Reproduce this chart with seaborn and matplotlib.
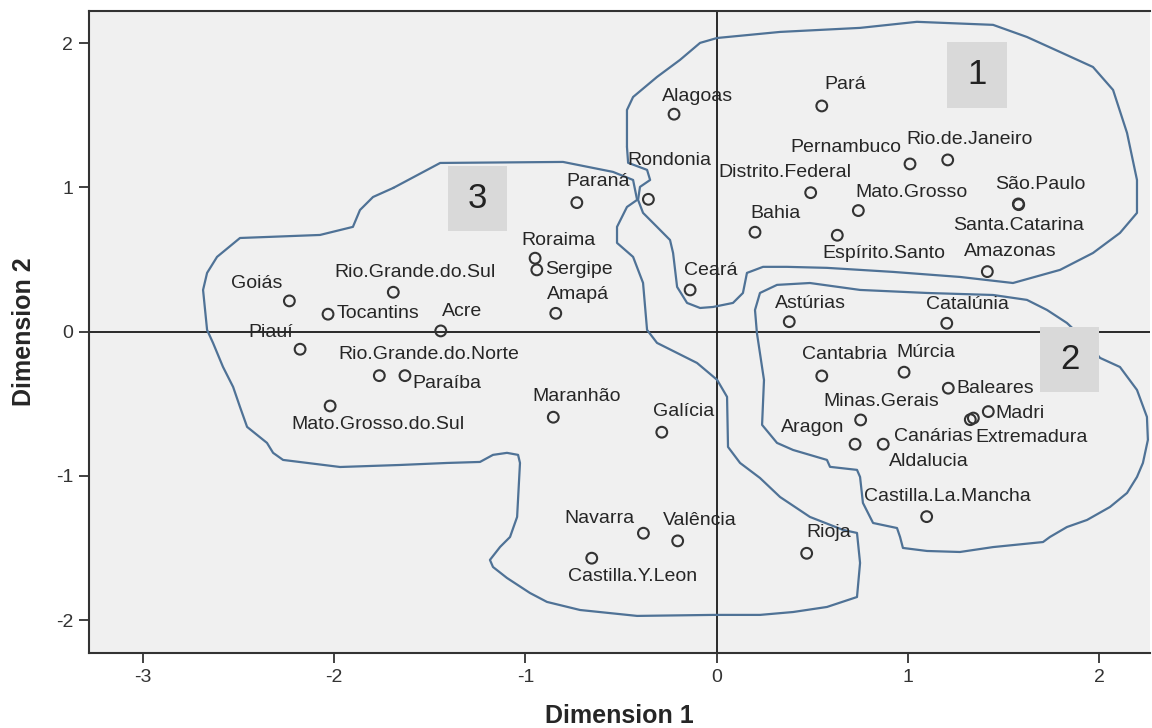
import matplotlib

matplotlib.use("Agg")

import matplotlib.pyplot as plt
import seaborn as sns
from matplotlib.patches import Rectangle

# Object points of the two-dimensional solution (Brazilian states and Spanish communities)
PLACES = [
    "Alagoas", "Pará", "Pernambuco", "Rio.de.Janeiro", "Distrito.Federal", "Mato.Grosso",
    "São.Paulo", "Santa.Catarina", "Espírito.Santo", "Bahia", "Amazonas", "Rondonia",
    "Paraná", "Roraima", "Sergipe", "Amapá", "Ceará", "Acre", "Rio.Grande.do.Sul", "Goiás",
    "Tocantins", "Piauí", "Rio.Grande.do.Norte", "Paraíba", "Mato.Grosso.do.Sul", "Maranhão",
    "Galícia", "Navarra", "Valência", "Castilla.Y.Leon", "Rioja", "Astúrias", "Catalúnia",
    "Cantabria", "Múrcia", "Baleares", "Madri", "Extremadura", "Aldalucia", "Minas.Gerais",
    "Aragon", "Canárias", "Castilla.La.Mancha",
]
DIM1 = [
    -0.223, 0.549, 1.010, 1.207, 0.491, 0.740,
    1.576, 1.578, 0.630, 0.200, 1.414, -0.357,
    -0.731, -0.949, -0.940, -0.841, -0.139, -1.442, -1.690, -2.233,
    -2.031, -2.177, -1.763, -1.629, -2.020, -0.854,
    -0.287, -0.383, -0.204, -0.653, 0.470, 0.379, 1.202,
    0.549, 0.979, 1.210, 1.419, 1.341, 1.325, 0.752,
    0.723, 0.870, 1.097,
]
DIM2 = [
    1.507, 1.564, 1.162, 1.190, 0.963, 0.839,
    0.885, 0.880, 0.668, 0.689, 0.416, 0.917,
    0.894, 0.509, 0.428, 0.127, 0.289, 0.005, 0.273, 0.213,
    0.121, -0.122, -0.305, -0.305, -0.515, -0.593,
    -0.697, -1.397, -1.450, -1.570, -1.536, 0.069, 0.058,
    -0.307, -0.281, -0.392, -0.554, -0.599, -0.610, -0.612,
    -0.780, -0.780, -1.282,
]

# Hand-drawn group outlines (dimension units)
GROUP1_X = [-0.469, -0.469, -0.437, -0.312, -0.192, -0.087, 0.002, 0.331, 0.749, 1.046, 1.444,
            1.621, 1.794, 1.966, 2.071, 2.144, 2.196, 2.196, 2.107, 1.966, 1.794, 1.548, 1.271,
            0.921, 0.576, 0.367, 0.242, 0.158, 0.137, 0.085, -0.019, -0.087, -0.155, -0.207,
            -0.228, -0.244, -0.312, -0.385, -0.411, -0.401, -0.348, -0.364, -0.463, -0.469]
GROUP1_Y = [1.280, 1.536, 1.626, 1.765, 1.883, 2.001, 2.035, 2.077, 2.105, 2.147, 2.126,
            2.042, 1.938, 1.834, 1.675, 1.377, 1.051, 0.823, 0.684, 0.545, 0.428, 0.337, 0.379,
            0.414, 0.442, 0.449, 0.449, 0.407, 0.268, 0.199, 0.171, 0.164, 0.199, 0.310,
            0.545, 0.635, 0.726, 0.823, 0.913, 1.003, 1.051, 1.121, 1.170, 1.280]
GROUP2_X = [0.210, 0.200, 0.226, 0.315, 0.487, 0.749, 1.099, 1.444, 1.621, 1.726, 1.830, 1.924,
            2.003, 2.107, 2.196, 2.248, 2.253, 2.227, 2.196, 2.144, 2.055, 1.935, 1.830, 1.741,
            1.705, 1.444, 1.271, 1.099, 0.973, 0.958, 0.942, 0.817, 0.764, 0.749, 0.733, 0.592,
            0.576, 0.399, 0.315, 0.237, 0.247, 0.210]
GROUP2_Y = [-0.009, 0.150, 0.268, 0.324, 0.337, 0.289, 0.268, 0.254, 0.220, 0.150, 0.060, -0.057,
            -0.182, -0.245, -0.404, -0.591, -0.750, -0.910, -1.007, -1.118, -1.215, -1.305,
            -1.354, -1.423, -1.458, -1.493, -1.527, -1.520, -1.499, -1.423, -1.361, -1.326,
            -1.187, -1.007, -0.958, -0.937, -0.889, -0.820, -0.771, -0.646, -0.335, -0.009]
GROUP3_X = [-1.690, -1.445, -0.803, -0.542, -0.437, -0.416, -0.469, -0.521, -0.521, -0.437,
            -0.385, -0.364, -0.312, -0.103, 0.002, 0.054, 0.059, 0.122, 0.226, 0.331, 0.487,
            0.660, 0.733, 0.749, 0.733, 0.576, 0.399, 0.226, -0.019, -0.416, -0.714, -0.887,
            -0.976, -1.096, -1.169, -1.185, -1.132, -1.080, -1.043, -1.028, -1.038, -1.096,
            -1.169, -1.237, -1.409, -1.655, -1.968, -2.266, -2.318, -2.350, -2.454, -2.491,
            -2.527, -2.580, -2.632, -2.663, -2.684, -2.663, -2.611, -2.491, -2.350, -2.073,
            -1.901, -1.864, -1.796, -1.690]
GROUP3_Y = [0.996, 1.169, 1.176, 1.107, 1.051, 0.913, 0.864, 0.726, 0.615, 0.518,
            0.338, 0.012, -0.078, -0.217, -0.334, -0.452, -0.799, -0.910, -1.014, -1.146, -1.284,
            -1.374, -1.395, -1.603, -1.839, -1.908, -1.943, -1.963, -1.963, -1.970, -1.929, -1.873,
            -1.811, -1.707, -1.631, -1.582, -1.492, -1.423, -1.284, -0.910, -0.854, -0.840,
            -0.854, -0.903, -0.910, -0.924, -0.938, -0.889, -0.840, -0.771, -0.660, -0.522,
            -0.383, -0.244, -0.078, 0.012, 0.289, 0.407, 0.518, 0.649, 0.656, 0.670,
            0.726, 0.843, 0.933, 0.996]

# Group number boxes: label, (x0, x1), (y0, y1)
GROUP_LABELS = ["1", "2", "3"]
GROUP_BOX_X = [(1.204, 1.517), (1.689, 1.998), (-1.404, -1.095)]
GROUP_BOX_Y = [(1.550, 2.009), (-0.418, 0.033), (0.698, 1.148)]

X_TICKS = [-3, -2, -1, 0, 1, 2]
Y_TICKS = [-2, -1, 0, 1, 2]

# label-centre offsets from each point, in pixels (right, up)
LABEL_OFFSETS = {
    "Alagoas": (23, 18), "Pará": (23, 21), "Pernambuco": (-64, 16), "Rio.de.Janeiro": (22, 20),
    "Distrito.Federal": (-26, 20), "Mato.Grosso": (53, 18), "São.Paulo": (22, 19),
    "Santa.Catarina": (0, -21), "Espírito.Santo": (47, -18), "Bahia": (21, 19),
    "Amazonas": (23, 20), "Rondonia": (21, 39), "Paraná": (21, 21), "Roraima": (23, 18),
    "Sergipe": (42, 0), "Amapá": (22, 19), "Ceará": (21, 19), "Acre": (21, 19),
    "Rio.Grande.do.Sul": (22, 20), "Goiás": (-33, 17), "Tocantins": (50, 1), "Piauí": (-29, 17),
    "Rio.Grande.do.Norte": (49, 21), "Paraíba": (42, -8), "Mato.Grosso.do.Sul": (48, -19),
    "Maranhão": (23, 21), "Galícia": (22, 21), "Navarra": (-44, 15), "Valência": (22, 20),
    "Castilla.Y.Leon": (41, -18), "Rioja": (22, 21), "Astúrias": (21, 18), "Catalúnia": (21, 19),
    "Cantabria": (23, 21), "Múrcia": (22, 20), "Baleares": (47, 0), "Madri": (32, -2),
    "Extremadura": (58, -19), "Aldalucia": (-41, -42), "Minas.Gerais": (21, 18),
    "Aragon": (-42, 17), "Canárias": (50, 8), "Castilla.La.Mancha": (21, 20),
}

sns.set_style("white")
plt.rcParams["font.family"] = ["Liberation Sans", "DejaVu Sans"]
plt.rcParams["axes.unicode_minus"] = False

fig = plt.figure(figsize=(11.52, 7.28), dpi=100)
ax = fig.add_axes([89 / 1152, 1 - 653 / 728, 1061 / 1152, 642 / 728])
ax.set_facecolor("#f0f0f0")

ax.axhline(0, color="#1a1a1a", lw=1.3, zorder=1)
ax.axvline(0, color="#1a1a1a", lw=1.3, zorder=1)

for gx, gy in [(GROUP1_X, GROUP1_Y), (GROUP2_X, GROUP2_Y), (GROUP3_X, GROUP3_Y)]:
    ax.plot(gx, gy, color="#4f7296", lw=1.6, solid_joinstyle="round", zorder=2)

for lab, (x0, x1), (y0, y1) in zip(GROUP_LABELS, GROUP_BOX_X, GROUP_BOX_Y):
    ax.add_patch(Rectangle((x0, y0), x1 - x0, y1 - y0, facecolor="#d9d9d9",
                           edgecolor="none", zorder=3))
    ax.text((x0 + x1) / 2, (y0 + y1) / 2, lab, ha="center", va="center",
            fontsize=25, color="#222222", zorder=4)

sns.scatterplot(x=DIM1, y=DIM2, ax=ax, marker="o", s=60, facecolors="none",
                edgecolor="#333333", linewidth=1.5, zorder=5)

for name, x, y in zip(PLACES, DIM1, DIM2):
    dx, dy = LABEL_OFFSETS[name]
    ax.annotate(name, (x, y), xytext=(dx, dy), textcoords="offset pixels",
                ha="center", va="center", fontsize=14, color="#262626", zorder=6)

ax.set_xlim(-3.28, 2.264)
ax.set_ylim(-2.227, 2.222)
ax.set_xticks(X_TICKS)
ax.set_yticks(Y_TICKS)
ax.tick_params(axis="both", which="major", direction="out", length=7.5, width=1.3,
               color="#333333", labelsize=14, labelcolor="#333333", pad=4,
               bottom=True, left=True)

for side in ["left", "bottom", "top"]:
    ax.spines[side].set_color("#333333")
    ax.spines[side].set_linewidth(1.5)
ax.spines["right"].set_visible(False)

ax.set_xlabel("Dimension 1", fontsize=18, fontweight="bold", labelpad=13)
ax.set_ylabel("Dimension 2", fontsize=18, fontweight="bold", labelpad=14)

fig.savefig("out.png", dpi=100, facecolor="white")
